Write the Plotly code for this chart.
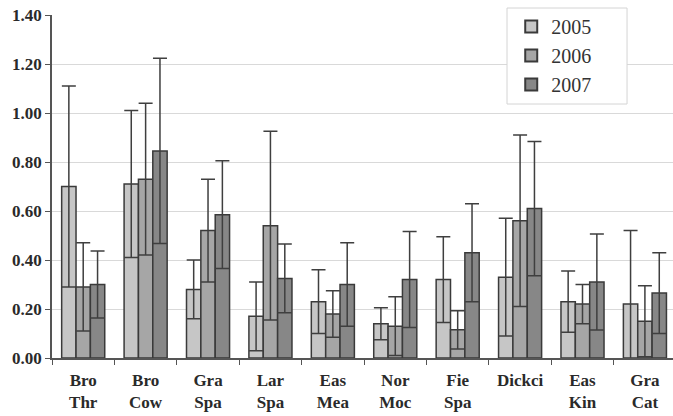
import plotly.graph_objects as go

categories = ["Bro<br>Thr", "Bro<br>Cow", "Gra<br>Spa", "Lar<br>Spa", "Eas<br>Mea",
              "Nor<br>Moc", "Fie<br>Spa", "Dickci", "Eas<br>Kin", "Gra<br>Cat"]
years = ["2005", "2006", "2007"]

vals_2005 = [0.70, 0.71, 0.28, 0.17, 0.23, 0.14, 0.32, 0.33, 0.23, 0.22]
err_2005 = [0.41, 0.30, 0.12, 0.14, 0.13, 0.065, 0.175, 0.24, 0.125, 0.30]
vals_2006 = [0.29, 0.73, 0.52, 0.54, 0.18, 0.13, 0.115, 0.56, 0.22, 0.15]
err_2006 = [0.18, 0.31, 0.21, 0.385, 0.095, 0.12, 0.078, 0.35, 0.08, 0.145]
vals_2007 = [0.30, 0.845, 0.585, 0.325, 0.30, 0.32, 0.43, 0.61, 0.31, 0.265]
err_2007 = [0.137, 0.378, 0.22, 0.14, 0.17, 0.196, 0.20, 0.274, 0.196, 0.165]

colors = ["#c6c6c6", "#a6a6a6", "#878787"]
series = [(vals_2005, err_2005), (vals_2006, err_2006), (vals_2007, err_2007)]

fig = go.Figure()
for name, (v, e), c in zip(years, series, colors):
    fig.add_trace(go.Bar(
        x=categories, y=v, name=name,
        marker=dict(color=c, line=dict(color="#3a3a3a", width=1.5)),
        error_y=dict(type="data", array=e, symmetric=True, color="#3f3f3f",
                     thickness=1.5, width=7),
    ))

# legend frame (white box covering the gridlines)
fig.add_shape(type="rect", xref="paper", yref="paper",
              x0=0.7327, x1=0.926, y0=0.7405, y1=1.0204,
              fillcolor="white", line=dict(color="#d4d4d4", width=1), layer="above")

fig.update_layout(
    width=673, height=416,
    margin=dict(l=52, r=0, t=15, b=58),
    paper_bgcolor="white", plot_bgcolor="white",
    barmode="group", bargap=0.31, bargroupgap=0,
    font=dict(family="Liberation Serif", color="#333333"),
    showlegend=True,
    legend=dict(x=0.7395, y=1.023, xanchor="left", yanchor="top",
                bgcolor="rgba(0,0,0,0)", borderwidth=0,
                font=dict(family="Liberation Serif", size=20, color="#333333"),
                itemsizing="constant"),
)
fig.update_xaxes(
    type="category", range=[-0.5, 9.45],
    showline=True, linecolor="#555555", linewidth=1.5,
    ticks="outside", tickson="boundaries", ticklen=5, tickcolor="#555555",
    ticklabelstandoff=6,
    tickfont=dict(family="Liberation Serif", size=17, color="#2a2a2a", weight="bold"),
    showgrid=False,
)
fig.update_yaxes(
    range=[0, 1.4], dtick=0.2, tickformat=".2f",
    showline=True, linecolor="#555555", linewidth=1.5,
    ticks="outside", ticklen=5, tickcolor="#555555",
    gridcolor="#d9d9d9", gridwidth=1.2,
    tickfont=dict(family="Liberation Serif", size=17, color="#2a2a2a", weight="bold"),
)

fig.write_html("out.html", config={"displayModeBar": False},
               post_script="document.body.style.margin='0px';")
